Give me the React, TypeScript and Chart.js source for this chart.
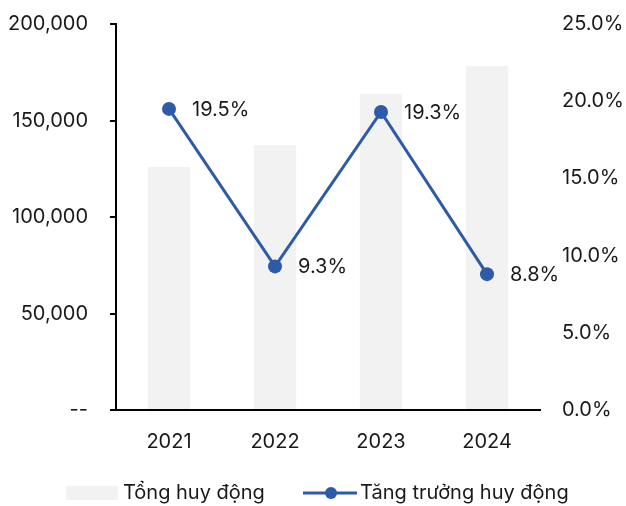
import React, { useEffect, useRef } from "react";
import { Chart, registerables } from "chart.js";

Chart.register(...registerables);

const categories = ["2021", "2022", "2023", "2024"];
const totalValues = [125900, 137300, 163700, 178200];
const growthValues = [19.5, 9.3, 19.3, 8.8];
const leftMax = 200000;
const leftStep = 50000;
const rightMax = 25;
const rightStep = 5;
const legendLabels = ["Tổng huy động", "Tăng trưởng huy động"];

const FONT = "Inter";
const FS = 20;
const TXT = "#1a1a1a";
const BAR = "#f2f2f2";
const LINE = "#2e5ba8";

export default function App() {
  const ref = useRef<HTMLCanvasElement | null>(null);
  useEffect(() => {
    if (!ref.current) return;
    const labelPlugin = {
      id: "labels",
      afterDatasetsDraw(chart: any) {
        const ctx = chart.ctx;
        const meta = chart.getDatasetMeta(1);
        ctx.save();
        ctx.font = `${FS}px ${FONT}`;
        ctx.fillStyle = TXT;
        ctx.textAlign = "left";
        ctx.textBaseline = "middle";
        meta.data.forEach((p: any, i: number) => {
          ctx.fillText(growthValues[i].toFixed(1) + "%", p.x + 23, p.y + 1);
        });
        ctx.restore();
      },
      afterDraw(chart: any) {
        const ctx = chart.ctx;
        ctx.save();
        const y = 493;
        ctx.fillStyle = BAR;
        ctx.fillRect(66, 486, 52, 14);
        ctx.font = `${FS}px ${FONT}`;
        ctx.fillStyle = TXT;
        ctx.textAlign = "left";
        ctx.textBaseline = "middle";
        ctx.fillText(legendLabels[0], 123, y);
        ctx.strokeStyle = LINE;
        ctx.lineWidth = 3;
        ctx.beginPath();
        ctx.moveTo(303, y);
        ctx.lineTo(357, y);
        ctx.stroke();
        ctx.fillStyle = LINE;
        ctx.beginPath();
        ctx.arc(331, y, 6, 0, Math.PI * 2);
        ctx.fill();
        ctx.fillStyle = TXT;
        ctx.fillText(legendLabels[1], 360, y);
        ctx.restore();
      },
    };
    const chart = new Chart(ref.current, {
      type: "bar",
      data: {
        labels: categories,
        datasets: [
          {
            type: "bar",
            label: legendLabels[0],
            data: totalValues,
            backgroundColor: BAR,
            yAxisID: "y",
            order: 1,
            barPercentage: 0.4,
            categoryPercentage: 1,
          },
          {
            type: "line",
            label: legendLabels[1],
            data: growthValues,
            borderColor: LINE,
            backgroundColor: LINE,
            borderWidth: 3,
            pointRadius: 7,
            pointBackgroundColor: LINE,
            pointBorderWidth: 0,
            yAxisID: "y1",
            order: 0,
          } as any,
        ],
      },
      options: {
        animation: false,
        responsive: false,
        devicePixelRatio: 1,
        layout: { padding: { top: 24, left: 0, right: 0, bottom: 36 } },
        plugins: { legend: { display: false }, tooltip: { enabled: false } },
        scales: {
          x: {
            offset: true,
            grid: { display: false, drawTicks: false },
            border: { display: true, color: "#000", width: 2 },
            ticks: { color: TXT, font: { family: FONT, size: FS }, padding: 20 },
            afterFit: (s: any) => {
              s.height = 60;
              s.paddingLeft = 0;
              s.paddingRight = 0;
            },
          },
          y: {
            position: "left",
            min: 0,
            max: leftMax,
            grid: {
              display: true,
              drawOnChartArea: false,
              drawTicks: true,
              tickLength: 6,
              color: "#000",
              lineWidth: 2,
            },
            border: { display: true, color: "#000", width: 2 },
            ticks: {
              stepSize: leftStep,
              color: TXT,
              font: { family: FONT, size: FS },
              padding: 22,
              callback: (v: any) => (v === 0 ? "--" : Number(v).toLocaleString("en-US")),
            },
            afterFit: (s: any) => {
              s.width = 116;
              s.paddingTop = 0;
              s.paddingBottom = 0;
            },
          },
          y1: {
            position: "right",
            min: 0,
            max: rightMax,
            grid: { display: false, drawTicks: false },
            border: { display: false },
            ticks: {
              stepSize: rightStep,
              color: TXT,
              font: { family: FONT, size: FS },
              padding: 22,
              callback: (v: any) => Number(v).toFixed(1) + "%",
            },
            afterFit: (s: any) => {
              s.width = 86;
              s.paddingTop = 0;
              s.paddingBottom = 0;
            },
          },
        },
      },
      plugins: [labelPlugin],
    });
    return () => chart.destroy();
  }, []);
  return (
    <div style={{ position: "absolute", left: 0, top: 0, width: 626, height: 506, background: "#fff" }}>
      <canvas ref={ref} width={626} height={506} style={{ width: 626, height: 506 }} />
    </div>
  );
}
